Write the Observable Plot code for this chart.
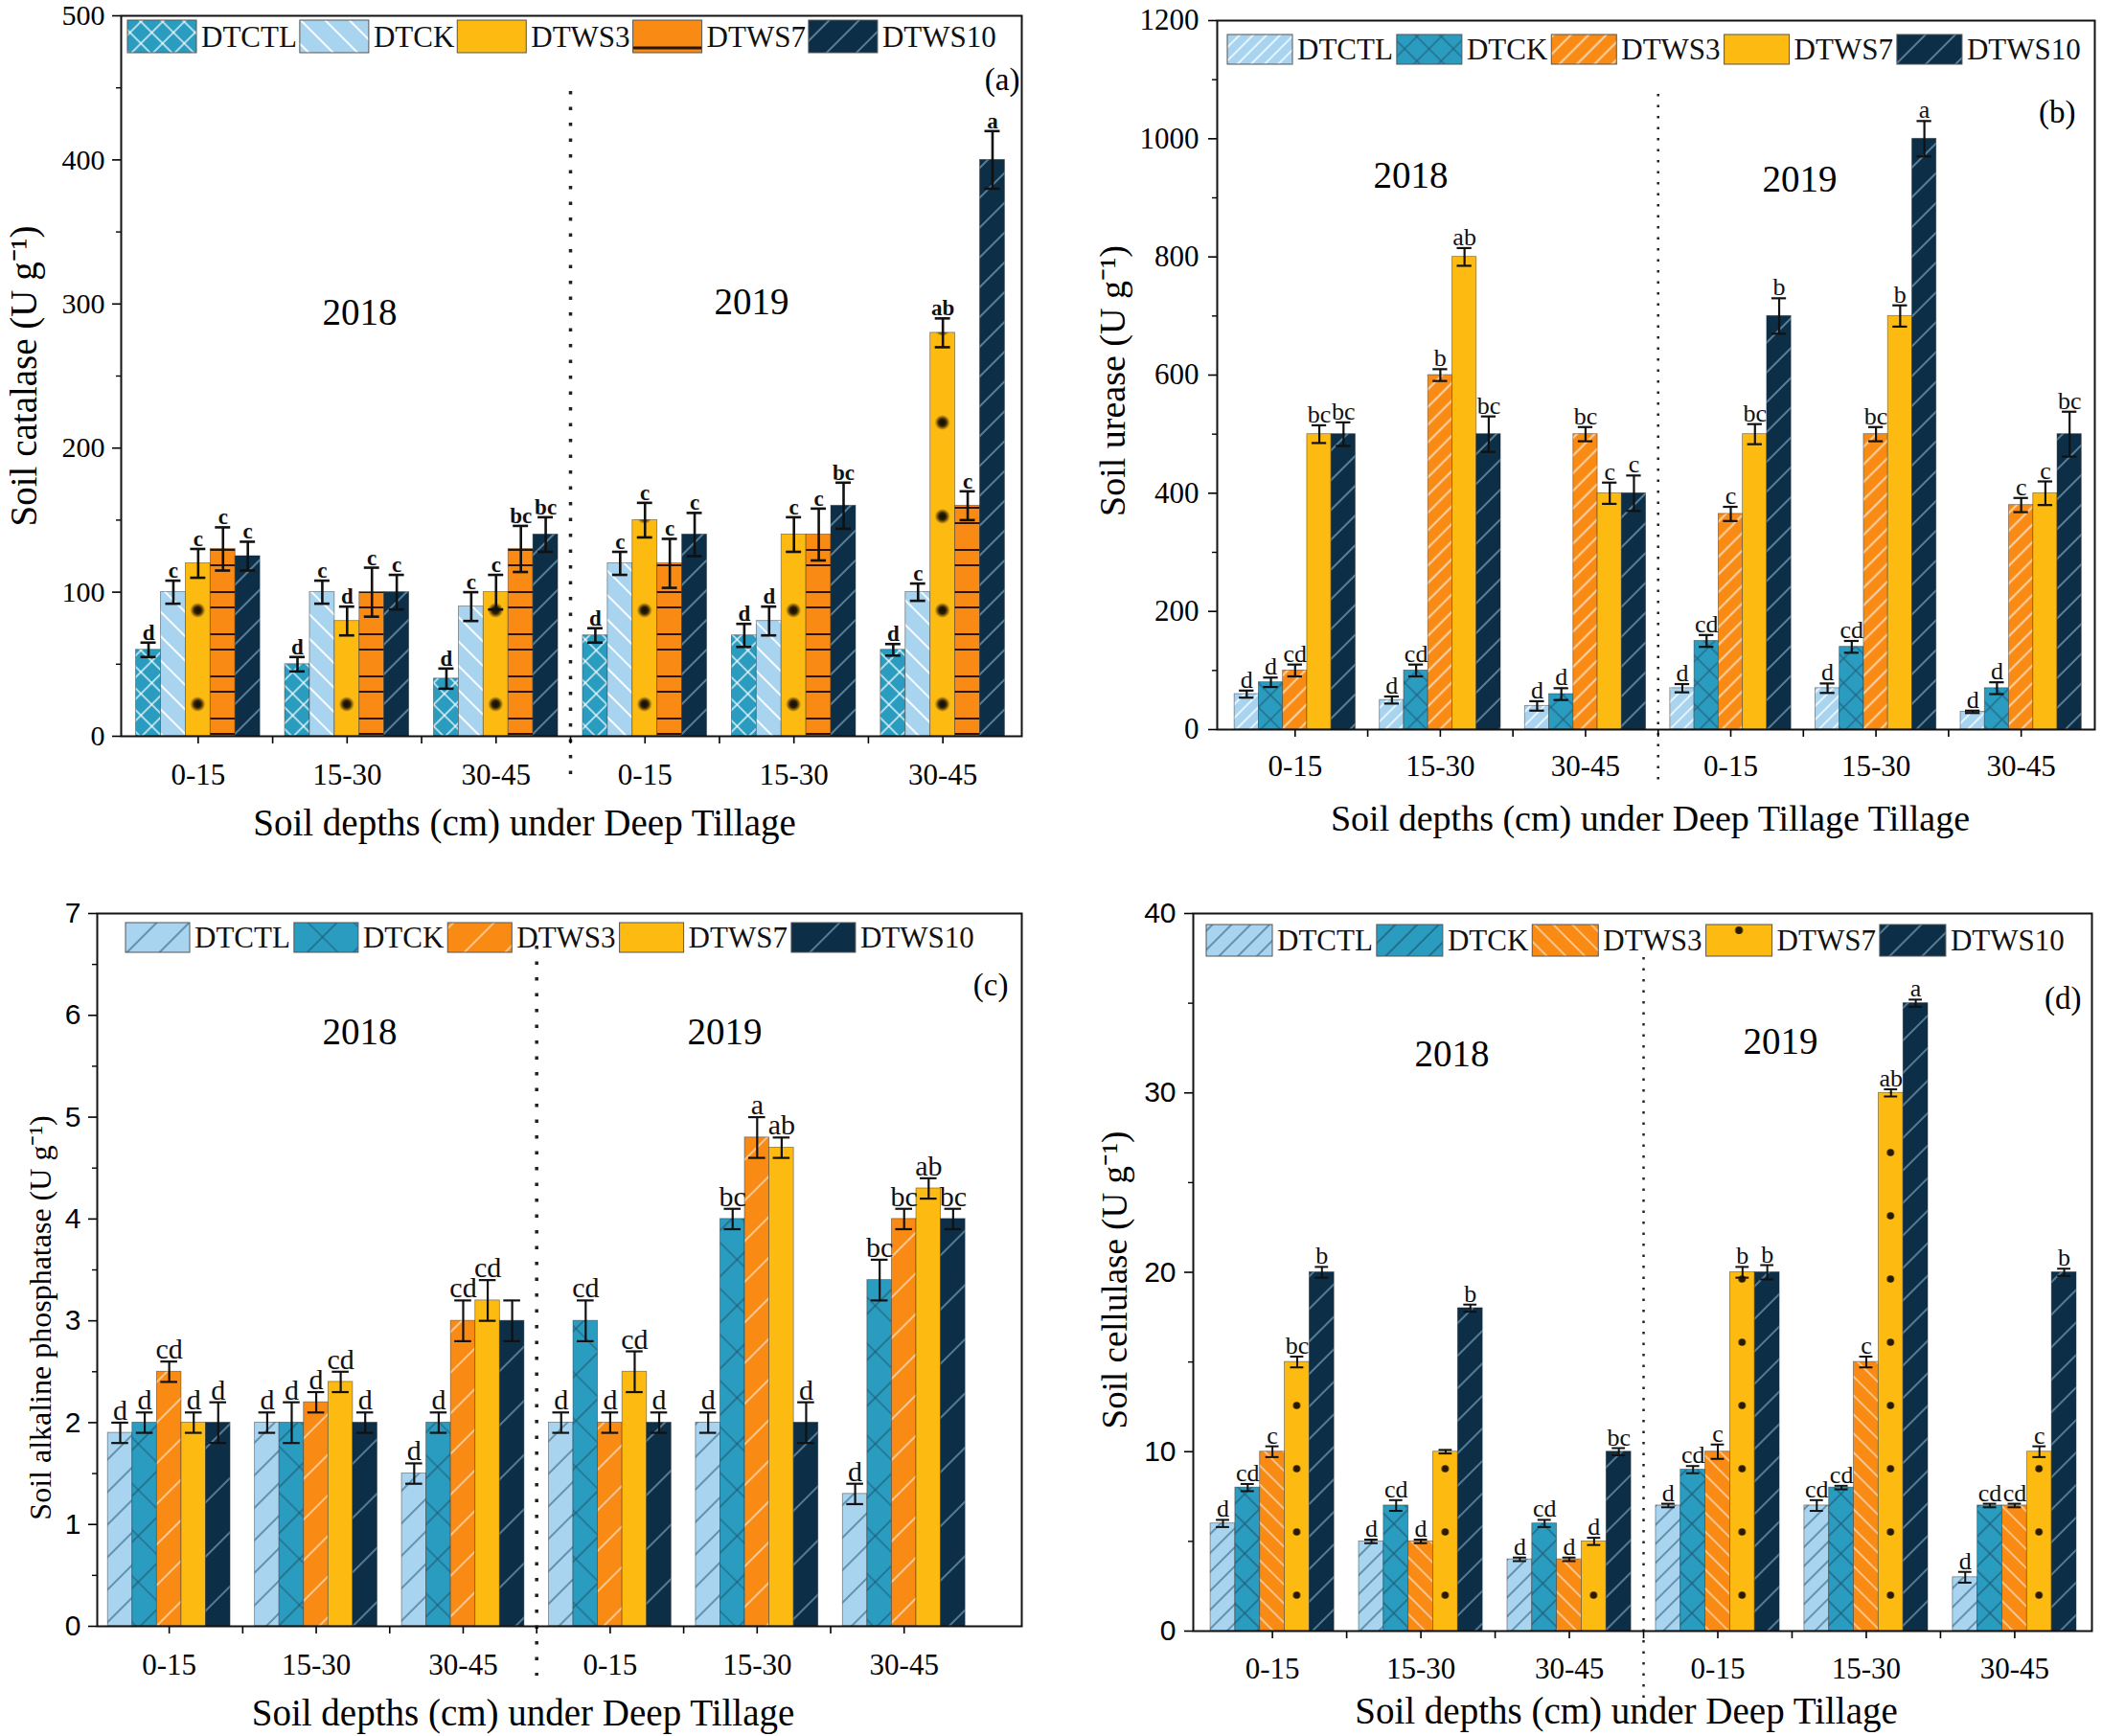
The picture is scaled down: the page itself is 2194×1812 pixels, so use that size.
<!DOCTYPE html>
<html><head><meta charset="utf-8">
<script src="https://cdn.jsdelivr.net/npm/d3@7"></script>
<script src="https://cdn.jsdelivr.net/npm/@observablehq/plot@0.6"></script>
<style>
html,body{margin:0;padding:0;background:#fff;}
#wrap{position:relative;width:2194px;height:1812px;overflow:hidden;background:#fff;}
.panel{position:absolute;}
</style></head><body>
<div id="wrap"></div>
<script>
// ---------- shared categories ----------
const groups = ["2018|0-15","2018|15-30","2018|30-45","2019|0-15","2019|15-30","2019|30-45"];
const depthLabels = ["0-15","15-30","30-45","0-15","15-30","30-45"];
const years = ["2018","2019"];
const series = ["DTCTL","DTCK","DTWS3","DTWS7","DTWS10"];

// ---------- (a) soil catalase: rows = groups, columns = series ----------
const catalaseMean = [[60,100,120,130,125],[50,100,80,100,100],[40,90,100,130,140],[70,120,150,120,140],[70,80,140,140,160],[60,100,280,160,400]];
const catalaseErr = [[5,8,10,15,10],[5,8,10,17,12],[7,10,12,16,12],[5,8,12,17,15],[8,10,12,18,16],[4,6,10,10,20]];
const catalaseLetters = [["d","c","c","c","c"],["d","c","d","c","c"],["d","c","c","bc","bc"],["d","c","c","c","c"],["d","d","c","c","bc"],["d","c","ab","c","a"]];
const catalaseTicks = [0,100,200,300,400,500];

// ---------- (b) soil urease ----------
const ureaseMean = [[60,80,100,500,500],[50,100,600,800,500],[40,60,500,400,400],[70,150,365,500,700],[70,140,500,700,1000],[30,70,380,400,500]];
const ureaseErr = [[6,8,10,15,20],[6,10,10,15,30],[8,10,12,18,30],[7,10,12,17,30],[8,10,12,18,30],[2,10,12,20,38]];
const ureaseLetters = [["d","d","cd","bc","bc"],["d","cd","b","ab","bc"],["d","d","bc","c","c"],["d","cd","c","bc","b"],["d","cd","bc","b","a"],["d","d","c","c","bc"]];
const ureaseTicks = [0,200,400,600,800,1000,1200];

// ---------- (c) soil alkaline phosphatase ----------
const alpMean = [[1.9,2.0,2.5,2.0,2.0],[2.0,2.0,2.2,2.4,2.0],[1.5,2.0,3.0,3.2,3.0],[2.0,3.0,2.0,2.5,2.0],[2.0,4.0,4.8,4.7,2.0],[1.3,3.4,4.0,4.3,4.0]];
const alpErr = [[0.1,0.1,0.1,0.1,0.2],[0.1,0.2,0.1,0.1,0.1],[0.1,0.1,0.2,0.2,0.2],[0.1,0.2,0.1,0.2,0.1],[0.1,0.1,0.2,0.1,0.2],[0.1,0.2,0.1,0.1,0.1]];
const alpLetters = [["d","d","cd","d","d"],["d","d","d","cd","d"],["d","d","cd","cd",""],["d","cd","d","cd","d"],["d","bc","a","ab","d"],["d","bc","bc","ab","bc"]];
const alpTicks = [0,1,2,3,4,5,6,7];

// ---------- (d) soil cellulase ----------
const celMean = [[6,8,10,15,20],[5,7,5,10,18],[4,6,4,5,10],[7,9,10,20,20],[7,8,15,30,35],[3,7,7,10,20]];
const celErr = [[0.2,0.2,0.3,0.3,0.3],[0.1,0.3,0.1,0.1,0.2],[0.1,0.2,0.1,0.2,0.2],[0.1,0.2,0.4,0.3,0.4],[0.3,0.1,0.3,0.2,0.2],[0.3,0.1,0.1,0.3,0.2]];
const celLetters = [["d","cd","c","bc","b"],["d","cd","d","","b"],["d","cd","d","d","bc"],["d","cd","c","b","b"],["cd","cd","c","ab","a"],["d","cd","cd","c","b"]];
const celTicks = [0,10,20,30,40];

// ---------- styles ----------
const TEAL="#2a9cc0", LIGHT="#a9d4f0", YELLOW="#fdbb12", ORANGE="#f98a14", NAVY="#0c2e47";
const WHITE="rgba(255,255,255,0.8)", NAVYLINE="rgba(150,190,215,0.7)", DARK="#23617d";

const panels = [
  {id:"a", left:0, top:0, w:1097, h:906, mL:126, mR:31, mT:16, mB:138,
   mean:catalaseMean, err:catalaseErr, letters:catalaseLetters, ticks:catalaseTicks,
   ylabel:"Soil catalase (U g\u207B\u00B9)", xlabel:"Soil depths (cm) under Deep Tillage",
   po:0.64, align:0.47, yFont:"Liberation Serif", yTickFont:30, yTickPad:8,
   yl:{dx:-101, dy:0, fs:39}, xl:{dy:91, dx:-49, fs:39}, xTickPad:20,
   yr:[{dx:249,dy:310},{dx:658,dy:299}], tag:{t:"(a)",dx:-2,dy:67},
   letterFs:23, letterW:"bold", cap:5, ebw:2.6,
   leg:{x:133, y:21, w:72, h:34, fs:31, gap:3},
   sep:{top:79, bottom:-48, dash:"3.5 13", w:3.5},
   pat:{DTCTL:{bg:TEAL,type:"cross",c:WHITE,s:16,w:1.6},
        DTCK:{bg:LIGHT,type:"back",c:"rgba(255,255,255,0.9)",s:18,w:2},
        DTWS3:{bg:YELLOW,type:"dots",c:"#140c00",period:98,r:8,soft:true},
        DTWS7:{bg:ORANGE,type:"hlines",c:"#2a1600",period:44,w:2},
        DTWS10:{bg:NAVY,type:"fwd",c:NAVYLINE,s:22,w:1.6}},
   legPat:{DTWS3:{bg:YELLOW,type:"plain"}, DTWS7:{bg:ORANGE,type:"bottomline",c:"#2a1600",w:3}}},
  {id:"b", left:1097, top:0, w:1097, h:906, mL:173, mR:8, mT:21, mB:145,
   mean:ureaseMean, err:ureaseErr, letters:ureaseLetters, ticks:ureaseTicks,
   ylabel:"Soil urease (U g\u207B\u00B9)", xlabel:"Soil depths (cm) under Deep Tillage Tillage",
   po:0.63, align:0.57, yFont:"Liberation Serif", yTickFont:31, yTickPad:10,
   yl:{dx:-109, dy:6, fs:38}, xl:{dy:93, dx:-6, fs:38}, xTickPad:18,
   yr:[{dx:202,dy:162},{dx:608,dy:166}], tag:{t:"(b)",dx:-20,dy:96},
   letterFs:26, letterW:"normal", cap:5, ebw:2.2,
   leg:{x:184, y:36, w:68, h:31, fs:31, gap:4},
   sep:{top:77, bottom:-58, dash:"2.5 9", w:2.5},
   pat:{DTCTL:{bg:LIGHT,type:"fwd",c:WHITE,s:10,w:1.8},
        DTCK:{bg:TEAL,type:"cross",c:DARK,s:18,w:1.2},
        DTWS3:{bg:ORANGE,type:"fwd",c:"rgba(255,255,255,0.7)",s:13,w:1.8},
        DTWS7:{bg:YELLOW,type:"plain"},
        DTWS10:{bg:NAVY,type:"fwd",c:NAVYLINE,s:22,w:1.6}},
   legPat:{}},
  {id:"c", left:0, top:906, w:1097, h:906, mL:101, mR:31, mT:47, mB:115,
   mean:alpMean, err:alpErr, letters:alpLetters, ticks:alpTicks,
   ylabel:"Soil alkaline phosphatase (U g\u207B\u00B9)", xlabel:"Soil depths (cm) under Deep Tillage",
   po:1.37, align:0.16, yFont:"Liberation Sans", yTickFont:30, yTickPad:8,
   yl:{dx:-59, dy:50, fs:32}, xl:{dy:91, dx:-38, fs:39}, xTickPad:20,
   yr:[{dx:274,dy:124},{dx:655,dy:124}], tag:{t:"(c)",dx:-14,dy:75},
   letterFs:30, letterW:"normal", cap:4, ebw:2.2,
   leg:{x:131, y:57, w:67, h:31, fs:31, gap:4},
   sep:{top:34, bottom:-52, dash:"3.5 13", w:3.5},
   pat:{DTCTL:{bg:LIGHT,type:"fwd",c:"#3e6e8a",s:24,w:1.3},
        DTCK:{bg:TEAL,type:"cross",c:"#1f5a74",s:34,w:1.2},
        DTWS3:{bg:ORANGE,type:"fwd",c:"rgba(255,255,255,0.7)",s:30,w:1.5},
        DTWS7:{bg:YELLOW,type:"plain"},
        DTWS10:{bg:NAVY,type:"fwd",c:NAVYLINE,s:40,w:1.5}},
   legPat:{}},
  {id:"d", left:1097, top:906, w:1097, h:906, mL:148, mR:11, mT:47, mB:110,
   mean:celMean, err:celErr, letters:celLetters, ticks:celTicks,
   ylabel:"Soil cellulase (U g\u207B\u00B9)", xlabel:"Soil depths (cm) under Deep Tillage",
   po:0.66, align:0.53, yFont:"Liberation Sans", yTickFont:30, yTickPad:9,
   yl:{dx:-81, dy:8, fs:37}, xl:{dy:84, dx:-17, fs:39}, xTickPad:19,
   yr:[{dx:270,dy:147},{dx:613,dy:134}], tag:{t:"(d)",dx:-11,dy:89},
   letterFs:26, letterW:"normal", cap:6, ebw:2,
   leg:{x:162, y:59, w:69, h:33, fs:31, gap:4},
   sep:{top:46, bottom:-93, dash:"2.5 9", w:2.5},
   pat:{DTCTL:{bg:LIGHT,type:"fwd",c:"#3e6e8a",s:14,w:1.3},
        DTCK:{bg:TEAL,type:"cross",c:"#1f5a74",s:22,w:1.2},
        DTWS3:{bg:ORANGE,type:"back",c:"rgba(255,255,255,0.7)",s:14,w:1.4},
        DTWS7:{bg:YELLOW,type:"dots",c:"#2a1a00",period:66,r:3.8,soft:false},
        DTWS10:{bg:NAVY,type:"fwd",c:NAVYLINE,s:24,w:1.5}},
   legPat:{DTCK:{bg:TEAL,type:"fwd",c:"#1f5a74",s:16,w:1.4}, DTWS7:{bg:YELLOW,type:"topdot",c:"#2a1a00",r:4}}}
];

function makePattern(defs, id, p, x0, bw, box) {
  const pat = defs.append("pattern").attr("id", id).attr("patternUnits", "userSpaceOnUse");
  if (p.type === "plain") {
    pat.attr("width", 10).attr("height", 10);
    pat.append("rect").attr("width", 10).attr("height", 10).attr("fill", p.bg);
  } else if (p.type === "fwd" || p.type === "back" || p.type === "cross") {
    const s = p.s;
    pat.attr("width", s).attr("height", s).attr("patternTransform", `rotate(${p.type === "back" ? -45 : 45})`);
    pat.append("rect").attr("width", s).attr("height", s).attr("fill", p.bg);
    pat.append("line").attr("x1", s/2).attr("x2", s/2).attr("y1", 0).attr("y2", s)
      .attr("stroke", p.c).attr("stroke-width", p.w);
    if (p.type === "cross") {
      pat.append("line").attr("y1", s/2).attr("y2", s/2).attr("x1", 0).attr("x2", s)
        .attr("stroke", p.c).attr("stroke-width", p.w);
    }
  } else if (p.type === "hlines") {
    pat.attr("width", 10).attr("height", p.period);
    pat.append("rect").attr("width", 10).attr("height", p.period).attr("fill", p.bg);
    [p.w, p.w + 16].forEach(y => pat.append("line").attr("x1", 0).attr("x2", 10).attr("y1", y).attr("y2", y)
      .attr("stroke", p.c).attr("stroke-width", p.w));
  } else if (p.type === "dots") {
    pat.attr("x", x0).attr("y", 0).attr("width", bw).attr("height", p.period);
    pat.append("rect").attr("width", bw).attr("height", p.period).attr("fill", p.bg);
    let fill = p.c;
    if (p.soft) {
      const gid = id + "-grad";
      const g = defs.append("radialGradient").attr("id", gid);
      g.append("stop").attr("offset", "0%").attr("stop-color", p.c).attr("stop-opacity", 1);
      g.append("stop").attr("offset", "45%").attr("stop-color", p.c).attr("stop-opacity", 0.9);
      g.append("stop").attr("offset", "100%").attr("stop-color", p.c).attr("stop-opacity", 0);
      fill = `url(#${gid})`;
    }
    pat.append("circle").attr("cx", bw/2).attr("cy", p.period/2).attr("r", p.r).attr("fill", fill);
  } else if (p.type === "bottomline" || p.type === "topdot") {
    // legend swatch tile covering the whole swatch box
    pat.attr("x", box.x).attr("y", box.y).attr("width", box.w).attr("height", box.h);
    pat.append("rect").attr("width", box.w).attr("height", box.h).attr("fill", p.bg);
    if (p.type === "bottomline") {
      pat.append("line").attr("x1", 0).attr("x2", box.w).attr("y1", box.h - 5).attr("y2", box.h - 5)
        .attr("stroke", p.c).attr("stroke-width", p.w);
    } else {
      pat.append("circle").attr("cx", box.w / 2).attr("cy", 6).attr("r", p.r).attr("fill", p.c);
    }
  }
}

const wrap = document.getElementById("wrap");

panels.forEach(cfg => {
  const rows = [];
  groups.forEach((g, gi) => series.forEach((s, si) => rows.push({
    key: `${g}|${s}`, s, v: cfg.mean[gi][si], e: cfg.err[gi][si], letter: cfg.letters[gi][si]
  })));
  const xDomain = [];
  groups.forEach((g, gi) => {
    series.forEach(s => xDomain.push(`${g}|${s}`));
    if (gi < groups.length - 1) xDomain.push(`${g}|gap`);
  });
  const centerKeys = groups.map(g => `${g}|${series[2]}`);
  const gapKeys = groups.slice(0, -1).map(g => `${g}|gap`);
  const sepKey = `${groups[2]}|gap`;
  const step = cfg.ticks[1] - cfg.ticks[0];
  const minor = cfg.ticks.slice(0, -1).map(t => t + step / 2);
  const ymax = cfg.ticks[cfg.ticks.length - 1];
  const serif = "Liberation Serif";

  const svg = Plot.plot({
    width: cfg.w, height: cfg.h,
    marginLeft: cfg.mL, marginRight: cfg.mR, marginTop: cfg.mT, marginBottom: cfg.mB,
    style: {fontFamily: serif, fontSize: "30px", color: "#000", background: "transparent", overflow: "visible"},
    x: {type: "band", domain: xDomain, paddingInner: 0, paddingOuter: cfg.po, align: cfg.align, round: false},
    y: {domain: [0, ymax]},
    color: {type: "identity"},
    marks: [
      Plot.barY(rows, {x: "key", y: "v", fill: d => `url(#${cfg.id}-${d.s})`, stroke: "#2b2b2b", strokeWidth: 0.8, strokeOpacity: 0.55}),
      Plot.ruleX(rows, {x: "key", y1: d => d.v - d.e, y2: d => d.v + d.e, stroke: "#111", strokeWidth: cfg.ebw}),
      Plot.tickY(rows, {x: "key", y: d => d.v + d.e, stroke: "#111", strokeWidth: cfg.ebw, insetLeft: cfg.cap, insetRight: cfg.cap}),
      Plot.tickY(rows, {x: "key", y: d => d.v - d.e, stroke: "#111", strokeWidth: cfg.ebw, insetLeft: cfg.cap, insetRight: cfg.cap}),
      Plot.text(rows, {x: "key", y: d => d.v + d.e, text: "letter", dy: -3, lineAnchor: "bottom", fontSize: cfg.letterFs, fontWeight: cfg.letterW, fill: "#111"}),
      Plot.ruleX([sepKey], {x: d => d, stroke: "#222", strokeWidth: cfg.sep.w, strokeDasharray: cfg.sep.dash, insetTop: cfg.sep.top, insetBottom: cfg.sep.bottom}),
      Plot.axisY({ticks: cfg.ticks, tickSize: 9, tickPadding: cfg.yTickPad, label: null, fontSize: cfg.yTickFont, fontFamily: cfg.yFont, strokeWidth: 1.6, tickFormat: d => String(d)}),
      Plot.axisY({ticks: minor, tickSize: 5, tickFormat: () => "", label: null, strokeWidth: 1.4}),
      Plot.axisX({ticks: centerKeys.concat(gapKeys), tickSize: 8, tickPadding: cfg.xTickPad, label: null, fontSize: 31, strokeWidth: 1.6,
        tickFormat: k => { const i = centerKeys.indexOf(k); return i >= 0 ? depthLabels[i] : ""; }}),
      Plot.frame({stroke: "#111", strokeWidth: 2}),
      Plot.text([cfg.ylabel], {text: d => d, frameAnchor: "left", rotate: -90, textAnchor: "middle", lineAnchor: "middle", dx: cfg.yl.dx, dy: cfg.yl.dy, fontSize: cfg.yl.fs}),
      Plot.text([cfg.xlabel], {text: d => d, frameAnchor: "bottom", textAnchor: "middle", lineAnchor: "middle", dx: cfg.xl.dx, dy: cfg.xl.dy, fontSize: cfg.xl.fs}),
      Plot.text([years[0]], {text: d => d, frameAnchor: "top-left", textAnchor: "middle", lineAnchor: "middle", dx: cfg.yr[0].dx, dy: cfg.yr[0].dy, fontSize: 39}),
      Plot.text([years[1]], {text: d => d, frameAnchor: "top-left", textAnchor: "middle", lineAnchor: "middle", dx: cfg.yr[1].dx, dy: cfg.yr[1].dy, fontSize: 39}),
      Plot.text([cfg.tag.t], {text: d => d, frameAnchor: "top-right", textAnchor: "end", lineAnchor: "middle", dx: cfg.tag.dx, dy: cfg.tag.dy, fontSize: 33})
    ]
  });

  const div = document.createElement("div");
  div.className = "panel";
  div.style.left = cfg.left + "px";
  div.style.top = cfg.top + "px";
  div.appendChild(svg);
  wrap.appendChild(div);

  // patterns aligned with the x band scale
  const xs = svg.scale("x");
  const bw = xs.bandwidth;
  const x0 = xs.apply(xDomain[0]);
  const defs = d3.select(svg).insert("defs", ":first-child");
  series.forEach(s => makePattern(defs, `${cfg.id}-${s}`, cfg.pat[s], x0, bw));

  // legend inside the frame
  const lg = d3.select(svg).append("g").attr("text-anchor", "start");
  let lx = cfg.leg.x;
  series.forEach(s => {
    let fillId = `${cfg.id}-${s}`;
    if (cfg.legPat[s]) {
      fillId = `${cfg.id}-L-${s}`;
      makePattern(defs, fillId, cfg.legPat[s], x0, bw, {x: lx, y: cfg.leg.y, w: cfg.leg.w, h: cfg.leg.h});
    }
    lg.append("rect").attr("x", lx).attr("y", cfg.leg.y).attr("width", cfg.leg.w).attr("height", cfg.leg.h)
      .attr("fill", `url(#${fillId})`).attr("stroke", "#555").attr("stroke-width", 1);
    const t = lg.append("text").attr("x", lx + cfg.leg.w + 5).attr("y", cfg.leg.y + cfg.leg.h / 2)
      .attr("dy", "0.35em").attr("text-anchor", "start").attr("font-size", cfg.leg.fs).attr("fill", "#111").text(s);
    lx += cfg.leg.w + 5 + t.node().getComputedTextLength() + cfg.leg.gap;
  });
});
</script>
</body></html>
